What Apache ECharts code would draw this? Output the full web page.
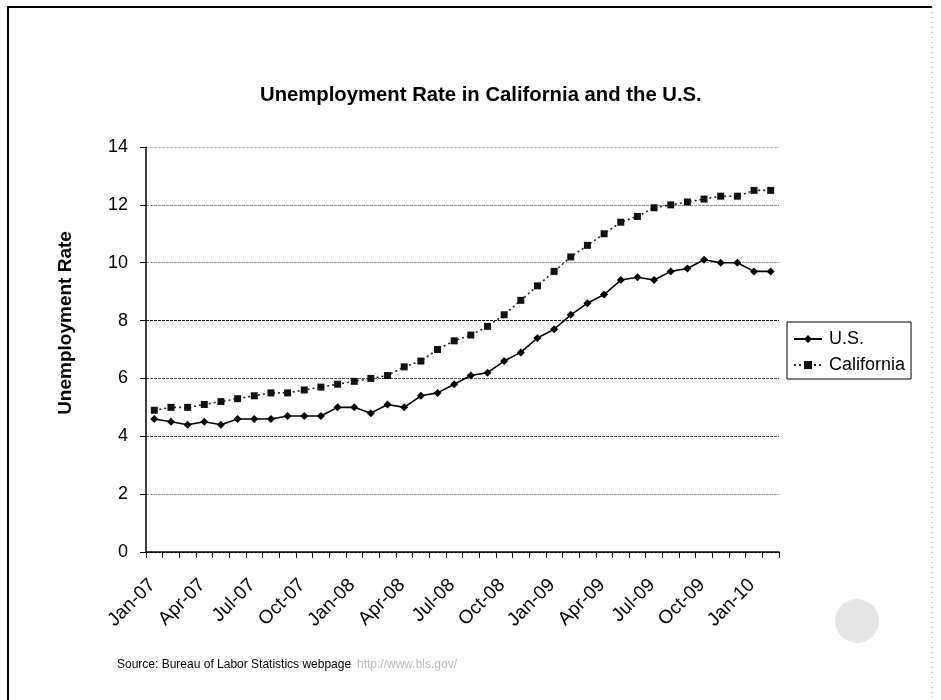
<!DOCTYPE html>
<html>
<head>
<meta charset="utf-8">
<script src="https://cdn.jsdelivr.net/npm/echarts@6/dist/echarts.min.js"></script>
<style>
  html, body { margin: 0; padding: 0; background: #fff; }
  #chart { width: 941px; height: 700px; }
</style>
</head>
<body>
<div id="chart"></div>
<script>
// Monthly unemployment rate, Jan 2007 – Feb 2010 (percent)
const months = [
  'Jan-07','Feb-07','Mar-07','Apr-07','May-07','Jun-07','Jul-07','Aug-07','Sep-07','Oct-07','Nov-07','Dec-07',
  'Jan-08','Feb-08','Mar-08','Apr-08','May-08','Jun-08','Jul-08','Aug-08','Sep-08','Oct-08','Nov-08','Dec-08',
  'Jan-09','Feb-09','Mar-09','Apr-09','May-09','Jun-09','Jul-09','Aug-09','Sep-09','Oct-09','Nov-09','Dec-09',
  'Jan-10','Feb-10'
];
const usRate = [
  4.6, 4.5, 4.4, 4.5, 4.4, 4.6, 4.6, 4.6, 4.7, 4.7, 4.7, 5.0,
  5.0, 4.8, 5.1, 5.0, 5.4, 5.5, 5.8, 6.1, 6.2, 6.6, 6.9, 7.4,
  7.7, 8.2, 8.6, 8.9, 9.4, 9.5, 9.4, 9.7, 9.8, 10.1, 10.0, 10.0,
  9.7, 9.7
];
const caRate = [
  4.9, 5.0, 5.0, 5.1, 5.2, 5.3, 5.4, 5.5, 5.5, 5.6, 5.7, 5.8,
  5.9, 6.0, 6.1, 6.4, 6.6, 7.0, 7.3, 7.5, 7.8, 8.2, 8.7, 9.2,
  9.7, 10.2, 10.6, 11.0, 11.4, 11.6, 11.9, 12.0, 12.1, 12.2, 12.3, 12.3,
  12.5, 12.5
];
const seriesNames = ['U.S.', 'California'];
const chartTitle = 'Unemployment Rate in California and the U.S.';
const yAxisTitle = 'Unemployment Rate';
const sourceNote = 'Source: Bureau of Labor Statistics webpage';
const sourceUrl = 'http://www.bls.gov/';

const FONT = 'Liberation Sans, Arial, sans-serif';
const chart = echarts.init(document.getElementById('chart'), null, { renderer: 'canvas' });

chart.setOption({
  animation: false,
  backgroundColor: '#ffffff',
  title: {
    text: chartTitle,
    left: 255,
    top: 80,
    textStyle: { fontFamily: FONT, fontSize: 20.3, fontWeight: 'bold', color: '#000' }
  },
  grid: { left: 146, right: 162, top: 147, bottom: 148, containLabel: false },
  legend: {
    orient: 'vertical',
    left: 787,
    top: 322,
    padding: [8, 6, 5, 6],
    itemGap: 8,
    itemWidth: 28,
    itemHeight: 10,
    borderColor: '#000',
    borderWidth: 1,
    textStyle: { fontFamily: FONT, fontSize: 18, lineHeight: 18, color: '#000', padding: [0, 0, 0, 2] },
    data: seriesNames
  },
  xAxis: {
    type: 'category',
    data: months,
    boundaryGap: true,
    axisLine: { lineStyle: { color: '#000', width: 1.5 } },
    axisTick: { show: true, length: 6, interval: 0, alignWithLabel: false, lineStyle: { color: '#000' } },
    axisLabel: {
      interval: 2,
      rotate: 45,
      margin: 28,
      padding: [0, 3, 0, 0],
      fontFamily: FONT,
      fontSize: 19,
      color: '#000'
    },
    splitLine: { show: false }
  },
  yAxis: {
    type: 'value',
    min: 0,
    max: 14,
    interval: 2,
    axisLine: { show: true, lineStyle: { color: '#000', width: 1.5 } },
    axisTick: { show: true, inside: false, length: 6, lineStyle: { color: '#000' } },
    axisLabel: { margin: 18, fontFamily: FONT, fontSize: 18, color: '#000' },
    splitLine: {
      show: true,
      lineStyle: {
        color: ['#000', '#999', '#555', '#555', '#111', '#999', '#888', '#bbb'],
        width: 1,
        type: [3, 1]
      }
    }
  },
  series: [
    {
      name: seriesNames[0],
      type: 'line',
      data: usRate,
      symbol: 'diamond',
      symbolSize: 8,
      lineStyle: { color: '#000', width: 1.6, type: 'solid' },
      itemStyle: { color: '#000' }
    },
    {
      name: seriesNames[1],
      type: 'line',
      data: caRate,
      symbol: 'rect',
      symbolSize: 7,
      lineStyle: { color: '#222', width: 1.6, type: [2, 3] },
      itemStyle: { color: '#111' }
    }
  ],
  graphic: [
    // page frame
    { type: 'polyline', shape: { points: [[8, 700], [8, 7], [932, 7]] }, style: { stroke: '#000', lineWidth: 2, fill: null }, silent: true },
    { type: 'line', shape: { x1: 932, y1: 7, x2: 932, y2: 700 }, style: { stroke: '#999', lineWidth: 1, lineDash: [1, 4] }, silent: true },
    // faint seal in the corner
    { type: 'circle', shape: { cx: 857, cy: 621, r: 22 }, style: { fill: 'rgba(0,0,0,0.10)' }, silent: true },
    // vertical axis title
    {
      type: 'text', x: 66, y: 323, rotation: Math.PI / 2,
      style: { text: yAxisTitle, fontFamily: FONT, fontSize: 19, fontWeight: 'bold', fill: '#000', align: 'center', verticalAlign: 'middle' },
      silent: true
    },
    // source line
    {
      type: 'text', left: 117, top: 659,
      style: { text: sourceNote, fontFamily: FONT, fontSize: 12, fill: '#000' }, silent: true
    },
    {
      type: 'text', left: 357, top: 659,
      style: { text: sourceUrl, fontFamily: FONT, fontSize: 12, fill: '#bbb' }, silent: true
    }
  ]
});
</script>
</body>
</html>
